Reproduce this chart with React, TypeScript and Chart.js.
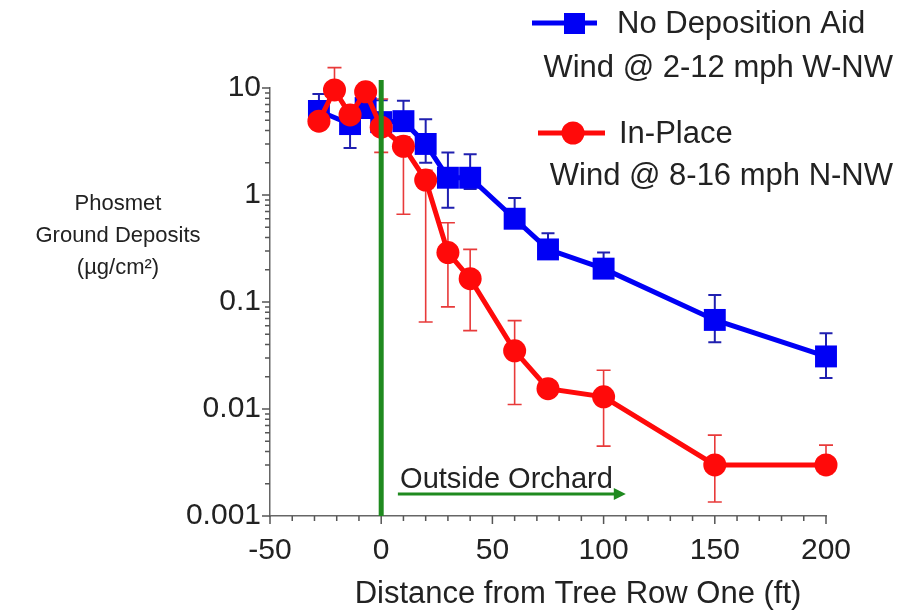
import React, { useEffect, useRef } from "react";
import { Chart, registerables } from "chart.js";

Chart.register(...registerables);

// Distance from tree row one (ft)
const blueX = [-28, -14, -7, 0, 10, 20, 30, 40, 60, 75, 100, 150, 200];
const blueY = [6.1, 4.6, 6.5, 4.8, 4.9, 3.0, 1.45, 1.45, 0.6, 0.31, 0.205, 0.068, 0.031];
const blueHigh = [8.8, 5.6, 7.2, 7.7, 7.6, 5.1, 2.5, 2.4, 0.94, 0.44, 0.29, 0.116, 0.051];
const blueLow = [5.0, 2.75, 5.5, 4.0, 4.0, 2.0, 0.76, 1.14, 0.5, 0.26, 0.17, 0.042, 0.0195];

const redX = [-28, -21, -14, -7, 0, 10, 20, 30, 40, 60, 75, 100, 150, 200];
const redY = [4.9, 9.6, 5.6, 9.2, 4.3, 2.85, 1.38, 0.29, 0.165, 0.035, 0.0155, 0.013, 0.003, 0.003];
const redHigh = [5.8, 15.5, 6.6, 11, 7.9, 3.5, 1.7, 0.55, 0.31, 0.067, 0.018, 0.023, 0.0057, 0.0046];
const redLow = [4.1, 8.0, 4.7, 7.8, 2.5, 0.66, 0.065, 0.09, 0.054, 0.011, 0.013, 0.0045, 0.00135, 0.0025];

const xTickValues = [-50, 0, 50, 100, 150, 200];
const yTickValues = [0.001, 0.01, 0.1, 1, 10];
const yTickLabels = ["0.001", "0.01", "0.1", "1", "10"];

const seriesNames = ["No Deposition Aid", "In-Place"];
const seriesNotes = ["Wind @ 2-12 mph W-NW", "Wind @ 8-16 mph N-NW"];
const yTitleLines = ["Phosmet", "Ground Deposits", "(\u00b5g/cm\u00b2)"];
const xTitle = "Distance from Tree Row One (ft)";
const annotationText = "Outside Orchard";

const BLUE = "#0000f5";
const RED = "#ff0a0a";
const GREEN = "#1f8a1f";
const FONT = "'Liberation Sans', Arial, sans-serif";
const TEXT = "#222";

function drawErrors(ctx: any, xs: any, ys: any, xv: number[], lo: number[], hi: number[], color: string, width: number, cap: number) {
  ctx.save();
  ctx.strokeStyle = color;
  ctx.lineWidth = width;
  for (let i = 0; i < xv.length; i++) {
    const px = xs.getPixelForValue(xv[i]);
    const pl = ys.getPixelForValue(lo[i]);
    const ph = ys.getPixelForValue(hi[i]);
    ctx.beginPath();
    ctx.moveTo(px, pl);
    ctx.lineTo(px, ph);
    ctx.moveTo(px - cap / 2, pl);
    ctx.lineTo(px + cap / 2, pl);
    ctx.moveTo(px - cap / 2, ph);
    ctx.lineTo(px + cap / 2, ph);
    ctx.stroke();
  }
  ctx.restore();
}

const overlay = {
  id: "overlay",
  beforeDatasetsDraw(chart: any) {
    const { ctx, scales } = chart;
    drawErrors(ctx, scales.x, scales.y, blueX, blueLow, blueHigh, "#2020b0", 2, 13);
    drawErrors(ctx, scales.x, scales.y, redX, redLow, redHigh, "#e83a3a", 1.6, 14);
  },
  afterDatasetsDraw(chart: any) {
    const { ctx, scales } = chart;
    const xs = scales.x, ys = scales.y;
    const gx = xs.getPixelForValue(0);
    ctx.save();
    ctx.strokeStyle = GREEN;
    ctx.lineWidth = 5;
    ctx.beginPath();
    ctx.moveTo(gx, ys.getPixelForValue(10) - 8);
    ctx.lineTo(gx, ys.getPixelForValue(0.001));
    ctx.stroke();
    const ay = ys.getPixelForValue(0.001) - 22;
    const ax0 = xs.getPixelForValue(7.5);
    const ax1 = xs.getPixelForValue(110);
    ctx.lineWidth = 3;
    ctx.beginPath();
    ctx.moveTo(ax0, ay);
    ctx.lineTo(ax1 - 10, ay);
    ctx.stroke();
    ctx.fillStyle = GREEN;
    ctx.beginPath();
    ctx.moveTo(ax1, ay);
    ctx.lineTo(ax1 - 12, ay - 6);
    ctx.lineTo(ax1 - 12, ay + 6);
    ctx.closePath();
    ctx.fill();
    ctx.fillStyle = TEXT;
    ctx.font = `29px ${FONT}`;
    ctx.textAlign = "left";
    ctx.textBaseline = "alphabetic";
    ctx.fillText(annotationText, xs.getPixelForValue(8.5), ay - 6);
    ctx.restore();
  },
  afterDraw(chart: any) {
    const { ctx, scales } = chart;
    const xs = scales.x, ys = scales.y;
    const axisY = ys.getPixelForValue(0.001);
    const axisX = xs.getPixelForValue(-50);
    ctx.save();
    ctx.strokeStyle = "#555";
    ctx.lineWidth = 1.5;
    ctx.beginPath();
    for (let v = -50; v <= 200; v += 10) {
      const px = xs.getPixelForValue(v);
      const len = v % 50 === 0 ? 8 : 5;
      ctx.moveTo(px, axisY);
      ctx.lineTo(px, axisY + len);
    }
    for (let e = -3; e <= 1; e++) {
      for (let m = 1; m <= 9; m++) {
        const v = m * Math.pow(10, e);
        if (v > 10.0001) break;
        const py = ys.getPixelForValue(v);
        const len = m === 1 ? 8 : 5;
        ctx.moveTo(axisX, py);
        ctx.lineTo(axisX - len, py);
      }
    }
    ctx.stroke();

    ctx.fillStyle = TEXT;
    ctx.font = `22px ${FONT}`;
    ctx.textAlign = "center";
    ctx.textBaseline = "middle";
    yTitleLines.forEach((t, i) => ctx.fillText(t, 118, 204 + i * 32));

    ctx.font = `31px ${FONT}`;
    ctx.fillText(xTitle, 578, 594);

    ctx.lineWidth = 5;
    ctx.strokeStyle = BLUE;
    ctx.beginPath();
    ctx.moveTo(532, 23);
    ctx.lineTo(597, 23);
    ctx.stroke();
    ctx.fillStyle = BLUE;
    ctx.fillRect(564, 13, 21, 21);

    ctx.strokeStyle = RED;
    ctx.beginPath();
    ctx.moveTo(538, 133);
    ctx.lineTo(605, 133);
    ctx.stroke();
    ctx.fillStyle = RED;
    ctx.beginPath();
    ctx.arc(573, 133, 11.5, 0, Math.PI * 2);
    ctx.fill();

    ctx.fillStyle = TEXT;
    ctx.font = `31px ${FONT}`;
    ctx.textAlign = "left";
    ctx.fillText(seriesNames[0], 617, 24);
    ctx.fillText(seriesNames[1], 619, 134);
    ctx.textAlign = "right";
    ctx.fillText(seriesNotes[0], 893, 68);
    ctx.fillText(seriesNotes[1], 893, 176);
    ctx.restore();
  },
};

export default function App() {
  const ref = useRef<HTMLCanvasElement | null>(null);
  useEffect(() => {
    if (!ref.current) return;
    const chart = new Chart(ref.current, {
      type: "scatter",
      data: {
        datasets: [
          {
            label: seriesNames[0],
            data: blueX.map((x, i) => ({ x, y: blueY[i] })),
            showLine: true,
            borderColor: BLUE,
            backgroundColor: BLUE,
            borderWidth: 5,
            pointStyle: "rect",
            pointRadius: 15.5,
            pointBorderWidth: 0,
            pointBackgroundColor: BLUE,
            order: 1,
            clip: false,
          },
          {
            label: seriesNames[1],
            data: redX.map((x, i) => ({ x, y: redY[i] })),
            showLine: true,
            borderColor: RED,
            backgroundColor: RED,
            borderWidth: 5,
            pointStyle: "circle",
            pointRadius: 11.5,
            pointBorderWidth: 0,
            pointBackgroundColor: RED,
            order: 0,
            clip: false,
          },
        ],
      },
      options: {
        animation: false,
        responsive: false,
        devicePixelRatio: 1,
        layout: { padding: { top: 88, right: 72, left: 0, bottom: 0 } },
        plugins: { legend: { display: false }, tooltip: { enabled: false } },
        scales: {
          x: {
            type: "linear",
            min: -50,
            max: 200,
            afterBuildTicks: (s: any) => {
              s.ticks = xTickValues.map((v) => ({ value: v }));
            },
            afterFit: (s: any) => {
              s.height = 95;
            },
            grid: { display: false, drawTicks: false },
            border: { display: true, color: "#666", width: 1.5 },
            ticks: {
              autoSkip: false,
              maxRotation: 0,
              padding: 17,
              color: TEXT,
              font: { family: FONT, size: 30 },
              callback: (v: any) => String(v),
            },
          },
          y: {
            type: "logarithmic",
            min: 0.001,
            max: 10,
            afterBuildTicks: (s: any) => {
              s.ticks = yTickValues.map((v) => ({ value: v }));
            },
            afterFit: (s: any) => {
              s.width = 270;
            },
            grid: { display: false, drawTicks: false },
            border: { display: true, color: "#666", width: 1.5 },
            ticks: {
              autoSkip: false,
              padding: 9,
              color: TEXT,
              font: { family: FONT, size: 30 },
              callback: (v: any) => {
                const i = yTickValues.findIndex((t) => Math.abs(t - v) / t < 1e-6);
                return i >= 0 ? yTickLabels[i] : "";
              },
            },
          },
        },
      },
      plugins: [overlay],
    } as any);
    return () => chart.destroy();
  }, []);
  return (
    <div style={{ position: "fixed", left: 0, top: 0, width: 898, height: 611, background: "#fff" }}>
      <canvas ref={ref} width={898} height={611} style={{ display: "block" }} />
    </div>
  );
}
